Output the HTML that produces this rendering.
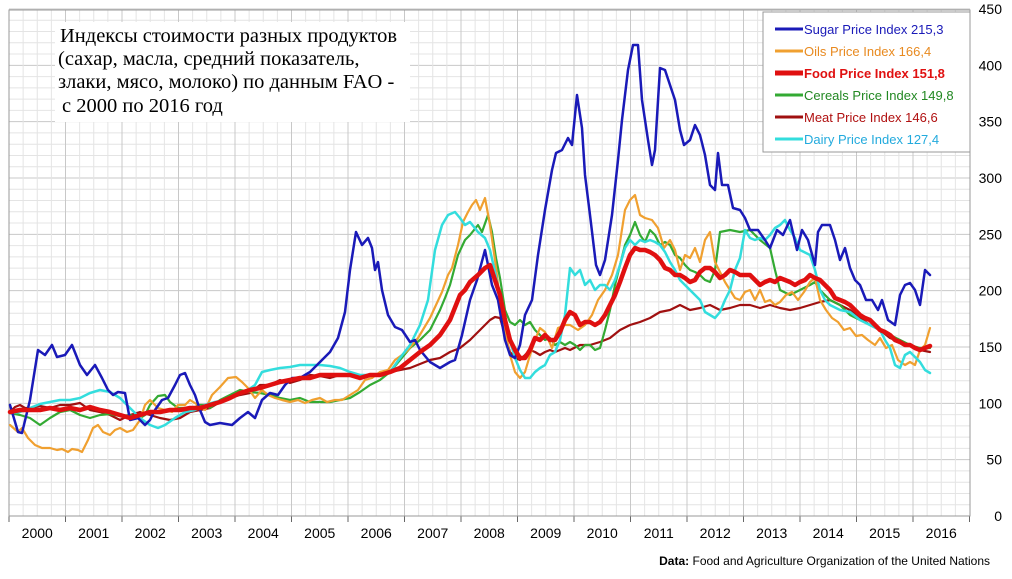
<!DOCTYPE html>
<html><head><meta charset="utf-8"><style>
body{margin:0;background:#fff;width:1012px;height:579px;overflow:hidden}
svg{display:block;font-family:"Liberation Sans",sans-serif}
</style></head><body>
<svg id="s" width="1012" height="579" viewBox="0 0 1012 579">
<rect width="1012" height="579" fill="#fff"/>
<g id="grid"></g>
<rect x="9" y="10" width="961" height="506" fill="none" stroke="#999" stroke-width="1"/>
<g id="lines" fill="none" stroke-linejoin="round" stroke-linecap="round"></g>
<rect x="55" y="22" width="355" height="100" fill="#fff"/>
<g font-family="Liberation Serif,'Noto Serif CJK SC',serif" font-size="20.5" fill="#000">
<text x="60" y="42">Индексы стоимости разных продуктов</text>
<text x="58" y="65">(сахар, масла, средний показатель,</text>
<text x="58" y="88">злаки, мясо, молоко) по данным FAO -</text>
<text x="62" y="112">с 2000 по 2016 год</text>
</g>
<rect x="763" y="12" width="207" height="140" fill="#fff" stroke="#999"/>
<g font-size="13">
<line x1="775" y1="29" x2="803" y2="29" stroke="#1a1ab8" stroke-width="3"/><text x="804" y="34" fill="#1a1ab8">Sugar Price Index 215,3</text>
<line x1="775" y1="51" x2="803" y2="51" stroke="#f0a030" stroke-width="3"/><text x="804" y="56" fill="#e88a20">Oils Price Index 166,4</text>
<line x1="775" y1="73" x2="803" y2="73" stroke="#e01010" stroke-width="5"/><text x="804" y="78" fill="#e01010" font-weight="bold">Food Price Index 151,8</text>
<line x1="775" y1="95" x2="803" y2="95" stroke="#33aa33" stroke-width="3"/><text x="804" y="100" fill="#228822">Cereals Price Index 149,8</text>
<line x1="775" y1="117" x2="803" y2="117" stroke="#a01010" stroke-width="3"/><text x="804" y="122" fill="#b01010">Meat Price Index 146,6</text>
<line x1="775" y1="139" x2="803" y2="139" stroke="#33dddd" stroke-width="3"/><text x="804" y="144" fill="#22aadd">Dairy Price Index 127,4</text>
</g>
<g id="yl" font-size="14" fill="#000"></g>
<g id="xl" font-size="14" fill="#000"></g>
<text x="990" y="565" font-size="12" text-anchor="end" fill="#000"><tspan font-weight="bold">Data:</tspan> Food and Agriculture Organization of the United Nations</text>
</svg>
<script>
var NS="http://www.w3.org/2000/svg";
function el(p,t,a,txt){var e=document.createElementNS(NS,t);for(var k in a)e.setAttribute(k,a[k]);if(txt!==undefined)e.textContent=txt;document.getElementById(p).appendChild(e);return e;}
var x0=9,yw=56.5,y0=516,u=1.1267;
for(var v=10;v<=450;v+=10){var y=y0-v*u;el("grid","line",{x1:9,x2:970,y1:y,y2:y,stroke:v%50?"#e4e4e4":"#c8c8c8","stroke-width":1});}
for(var i=0;i<68;i++){var x=x0+i*yw/4;if(x>970)break;el("grid","line",{x1:x,x2:x,y1:10,y2:516,stroke:i%4?"#e4e4e4":"#c8c8c8","stroke-width":1});}
for(var i=0;i<=17;i++){var x=x0+i*yw;if(x>970)break;el("grid","line",{x1:x,x2:x,y1:516,y2:522,stroke:"#666"});}
el("grid","line",{x1:9,x2:970,y1:516,y2:516,stroke:"#666"});
for(var v=0;v<=450;v+=50){el("yl","text",{x:1002,y:y0-v*u+5,"text-anchor":"end"},""+v);}
for(var i=0;i<=16;i++){el("xl","text",{x:x0+i*yw+yw/2,y:538,"text-anchor":"middle"},""+(2000+i));}
function P(c,w,s){el("lines","polyline",{points:s,stroke:c,"stroke-width":w});}
P("#a01010",2.2,"10,412 15,407 20,405 25,408 30,408 40,406 50,408 60,405 70,405 80,403 90,410 100,412 110,415 120,420 130,415 140,412 150,415 160,418 170,420 180,418 190,412 200,410 210,408 220,402 230,398 240,395 250,393 260,385 270,385 280,380 290,383 300,380 310,375 320,376 330,378 340,375 350,375 360,378 370,376 380,375 390,372 400,370 410,368 420,364 430,360 440,358 450,352 460,348 470,340 480,330 490,320 495,317 500,318 505,335 510,352 515,358 520,360 525,355 530,350 535,352 540,355 545,352 550,350 555,352 560,350 565,348 570,350 580,345 590,345 600,342 610,338 620,330 630,325 640,322 650,318 660,312 670,310 680,305 690,310 700,308 710,305 720,310 730,308 740,305 750,305 760,308 770,305 780,308 790,310 800,308 810,305 820,302 830,300 840,305 850,310 860,318 870,325 880,330 890,338 900,342 910,345 920,350 930,352");
P("#33aa33",2.2,"10,413 20,415 30,418 40,425 50,418 60,412 70,410 80,415 90,418 100,415 110,414 120,416 130,415 140,418 145,415 150,405 158,396 165,395 170,402 178,408 185,408 192,410 198,405 205,405 210,408 220,400 230,395 240,390 250,392 260,393 270,395 280,398 290,400 300,398 310,402 320,402 330,402 340,400 350,398 360,392 370,385 380,380 390,372 400,360 410,348 420,340 430,330 440,310 445,298 450,285 458,255 465,240 470,235 478,225 482,232 488,215 492,232 496,258 500,278 505,310 510,322 515,325 520,320 525,325 530,322 535,330 540,335 545,340 550,338 555,345 560,342 565,345 570,342 575,345 580,350 585,345 590,345 595,350 600,348 605,330 610,310 615,285 620,265 625,245 630,235 635,222 640,235 645,242 650,230 655,235 660,245 665,242 670,245 675,255 680,258 685,265 690,270 695,272 700,275 705,280 710,282 715,270 720,232 730,230 740,232 750,230 760,240 770,248 775,270 780,290 790,295 800,290 810,285 815,282 820,290 825,295 830,300 840,305 845,310 850,315 860,320 870,325 880,330 890,335 900,340 910,345 920,348 930,348");
P("#f0a030",2.2,"10,425 18,432 22,428 28,438 35,445 42,448 50,448 57,450 62,449 68,452 72,449 78,450 82,452 88,440 93,428 98,425 103,432 110,435 115,430 120,428 127,432 133,430 140,420 145,405 150,400 158,408 165,410 172,412 178,405 185,405 190,400 198,405 205,410 212,395 220,387 228,378 236,377 242,382 248,388 255,398 262,390 268,395 275,398 282,400 290,402 298,400 305,403 312,400 320,398 327,402 335,400 342,400 350,395 358,390 365,380 372,378 380,372 388,370 395,360 402,355 408,350 412,345 418,338 424,328 430,318 436,305 442,292 448,275 452,268 458,245 463,222 468,212 472,205 476,200 480,210 485,198 490,225 495,260 500,300 505,330 510,355 515,372 520,378 525,372 530,355 535,340 540,328 545,332 552,348 558,328 565,325 570,325 578,330 585,325 592,315 598,300 605,290 612,275 618,255 625,210 630,200 635,195 640,215 645,218 652,220 658,228 664,248 670,240 675,250 680,270 685,255 690,258 695,248 700,262 705,240 710,232 715,262 720,272 725,282 730,290 735,298 740,300 745,292 750,290 755,300 760,290 765,302 770,300 775,305 780,302 786,295 792,292 798,300 804,292 810,282 815,278 820,300 826,310 832,318 838,322 844,330 850,328 856,336 862,335 868,340 875,345 880,338 886,348 892,345 898,360 905,365 910,362 915,365 920,350 925,345 930,328");
P("#33dddd",2.5,"10,413 20,412 30,408 40,404 50,402 60,400 70,400 80,398 90,393 100,390 110,392 120,398 130,408 140,418 150,425 158,428 165,425 175,418 185,412 195,410 205,405 215,402 225,400 235,396 245,392 255,385 262,372 270,370 280,368 290,367 300,365 310,365 320,365 330,366 340,368 350,372 360,375 370,375 380,375 390,372 400,358 410,345 420,325 428,300 435,250 442,225 448,215 455,212 460,218 465,225 470,222 478,232 485,238 490,250 495,272 500,298 505,320 510,340 515,358 520,370 525,378 530,378 535,372 540,368 545,365 550,355 555,352 560,340 565,315 570,268 575,275 580,270 585,285 590,280 595,290 600,285 605,285 610,290 615,280 620,265 625,248 630,240 635,245 640,240 645,242 650,240 655,242 660,245 665,252 670,262 675,270 680,280 690,290 700,300 705,312 710,315 715,318 720,312 725,300 730,290 735,270 740,258 745,230 750,238 755,240 760,238 765,240 770,235 775,228 780,225 785,220 790,230 795,238 800,250 810,255 815,270 820,290 825,300 830,305 840,310 850,312 860,320 870,325 880,330 885,340 890,348 895,365 900,368 905,355 910,352 920,362 925,370 930,373");
P("#1a1ab8",2.5,"10,405 18,432 22,433 30,400 38,350 45,355 52,345 57,357 65,355 72,345 80,365 87,375 95,365 102,378 108,390 113,395 118,392 125,393 130,420 138,418 145,425 150,420 155,410 162,400 168,398 175,385 180,375 185,373 190,385 195,395 200,410 205,422 210,425 220,423 232,425 240,418 248,412 255,418 262,400 270,393 278,395 285,385 292,378 300,378 310,372 320,362 330,352 338,338 345,312 350,270 356,232 362,245 368,238 372,248 375,270 378,262 382,290 388,315 395,327 402,330 410,342 415,340 420,350 430,362 440,368 450,362 455,360 462,335 470,300 477,280 485,250 492,285 498,300 505,340 510,355 515,358 520,345 525,315 532,300 538,255 545,210 552,170 556,153 562,150 568,138 572,145 577,95 582,128 585,175 590,215 596,265 600,275 605,260 612,215 618,160 622,120 628,70 633,45 638,45 642,100 648,140 652,165 655,150 660,68 665,70 670,85 675,100 680,130 684,145 690,140 695,125 700,135 705,155 710,185 715,190 718,153 722,185 728,185 733,208 740,210 745,218 750,230 758,230 765,240 770,248 777,230 783,235 790,220 797,250 802,230 808,240 815,265 818,232 822,225 830,225 835,240 840,260 845,248 850,268 855,280 860,285 866,300 872,300 878,310 882,300 888,320 895,325 900,295 905,285 910,283 915,290 920,305 925,270 930,275");
P("#e01010",4.5,"10,412 20,410 30,410 40,410 50,408 60,410 70,408 80,410 90,407 100,410 110,412 120,415 130,418 140,415 150,412 160,412 170,410 180,410 190,408 200,408 210,405 220,402 230,398 240,393 250,390 260,388 270,385 280,382 290,380 300,378 310,378 320,375 330,375 340,375 350,375 360,378 370,375 380,375 390,372 400,368 410,360 420,352 430,345 440,335 450,320 460,295 465,290 470,282 478,275 485,268 490,265 495,280 500,295 505,320 510,340 515,350 520,358 525,358 530,350 535,338 540,340 545,335 550,340 555,340 560,332 565,320 570,312 575,315 580,325 585,322 590,322 595,325 600,322 605,315 610,305 615,295 620,282 625,268 630,255 635,248 640,250 645,250 650,252 655,255 660,260 665,268 670,270 675,275 680,275 685,278 690,282 695,280 700,272 705,268 710,268 715,272 720,278 725,275 730,270 735,272 740,275 745,275 750,275 755,280 760,285 765,282 770,280 775,282 780,278 785,280 790,282 795,285 800,282 805,280 810,275 815,278 820,280 825,285 830,290 835,298 840,300 845,302 850,305 855,310 860,315 865,318 870,320 875,325 880,330 885,332 890,335 895,340 900,342 905,345 910,345 915,348 920,350 925,348 930,346");
</script>
</body></html>
